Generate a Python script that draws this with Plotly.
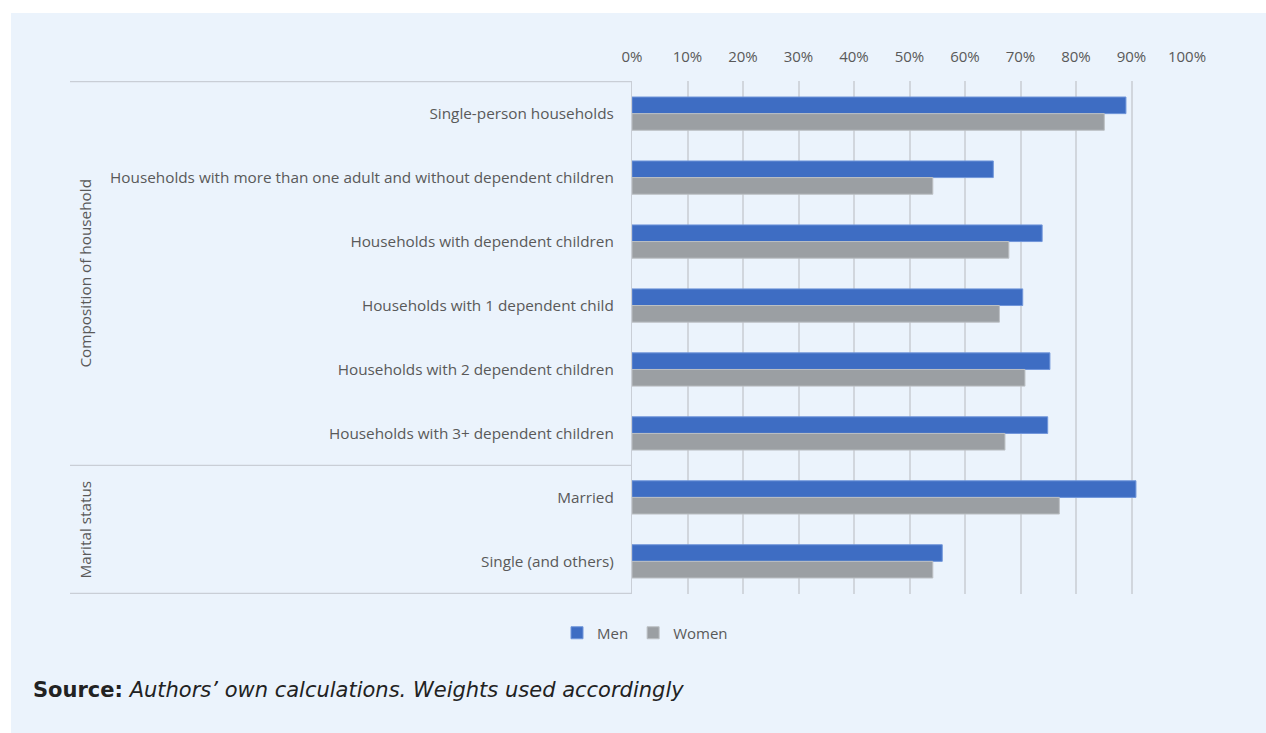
import plotly.graph_objects as go

# Share of respondents, by household type and marital status
groups = ["Composition of household", "Marital status"]
group_members = [
    [
        "Single-person households",
        "Households with more than one adult and without dependent children",
        "Households with dependent children",
        "Households with 1 dependent child",
        "Households with 2 dependent children",
        "Households with 3+ dependent children",
    ],
    ["Married", "Single (and others)"],
]
categories = [c for members in group_members for c in members]

men = [0.890, 0.651, 0.739, 0.704, 0.753, 0.749, 0.908, 0.559]
women = [0.851, 0.542, 0.679, 0.662, 0.708, 0.672, 0.770, 0.542]

x_ticks = [i / 10 for i in range(11)]
x_tick_labels = [f"{i * 10}%" for i in range(11)]

MEN_COLOR = "#3E6DC3"
WOMEN_COLOR = "#9B9FA3"
TEXT_COLOR = "#595959"
LINE_COLOR = "#C9CED6"
PANEL_COLOR = "#EBF3FC"
LABEL_FONT = "Open Sans"
LABEL_SIZE = 15.3

W, H = 1266, 733
M_L, M_R, M_T, M_B = 632, 79, 81, 139
plot_w = W - M_L - M_R
plot_h = H - M_T - M_B


def px_x(px):
    return (px - M_L) / plot_w


def px_y(py):
    return (H - M_B - py) / plot_h


fig = go.Figure()
fig.add_trace(go.Bar(
    y=categories, x=men, name="Men", orientation="h",
    marker=dict(color=MEN_COLOR, line=dict(color="#7196DA", width=1)),
))
fig.add_trace(go.Bar(
    y=categories, x=women, name="Women", orientation="h",
    marker=dict(color=WOMEN_COLOR, line=dict(color="#BCC0C4", width=1)),
))

shapes = [
    # light panel behind the whole chart
    dict(type="rect", xref="paper", yref="paper",
         x0=px_x(11), x1=px_x(W + 5), y0=px_y(H + 5), y1=px_y(13),
         fillcolor=PANEL_COLOR, line=dict(width=0), layer="below"),
]

# group separators along the category axis
x_left = px_x(70)
boundaries = [-0.5]
pos = -0.5
for members in group_members:
    pos += len(members)
    boundaries.append(pos)
for b in boundaries:
    shapes.append(dict(type="line", xref="paper", yref="y",
                       x0=x_left, x1=0, y0=b, y1=b,
                       line=dict(color=LINE_COLOR, width=1.3)))

annotations = []
start = 0
for g, members in zip(groups, group_members):
    center = start + (len(members) - 1) / 2
    annotations.append(dict(
        text=g, xref="paper", yref="y", x=px_x(85), y=center,
        textangle=-90, showarrow=False, xanchor="center", yanchor="middle",
        font=dict(family=LABEL_FONT, size=LABEL_SIZE, color=TEXT_COLOR),
    ))
    start += len(members)

annotations.append(dict(
    text="<b>Source:</b> <i>Authors’ own calculations. Weights used accordingly</i>",
    xref="paper", yref="paper", x=px_x(31), y=px_y(690),
    xanchor="left", yanchor="middle", showarrow=False,
    font=dict(family="DejaVu Sans", size=21, color="#222222"),
))

fig.update_layout(
    width=W, height=H,
    margin=dict(l=M_L, r=M_R, t=M_T, b=M_B, pad=0),
    paper_bgcolor="white",
    plot_bgcolor="rgba(0,0,0,0)",
    barmode="group",
    bargap=0.48,
    bargroupgap=0,
    shapes=shapes,
    annotations=annotations,
    legend=dict(
        orientation="h", x=px_x(645), y=px_y(633),
        xanchor="center", yanchor="middle",
        font=dict(family=LABEL_FONT, size=15, color=TEXT_COLOR),
        bgcolor="rgba(0,0,0,0)", itemwidth=30, traceorder="normal",
    ),
    xaxis=dict(
        side="top", range=[0, 1], tickvals=x_ticks, ticktext=x_tick_labels,
        showgrid=True, gridcolor="#D1D6DD", gridwidth=1.5,
        zeroline=False, showline=False, ticks="",
        tickfont=dict(family=LABEL_FONT, size=15, color=TEXT_COLOR),
        ticklabelstandoff=15,
    ),
    yaxis=dict(
        categoryorder="array", categoryarray=categories,
        autorange="reversed",
        showline=True, linecolor=LINE_COLOR, linewidth=1.3,
        showgrid=False, ticks="",
        tickfont=dict(family=LABEL_FONT, size=LABEL_SIZE, color=TEXT_COLOR),
        ticklabelstandoff=14,
    ),
)

fig.write_html("out.html")
